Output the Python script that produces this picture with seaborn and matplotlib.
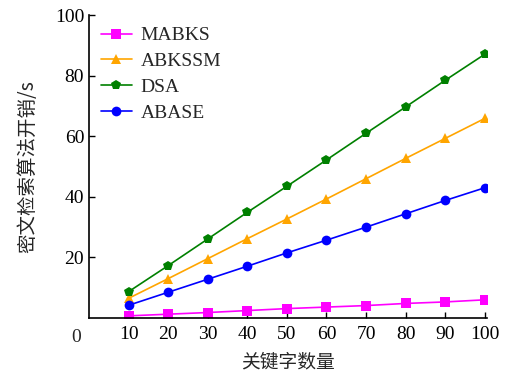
import pandas as pd
import matplotlib
matplotlib.use('Agg')
import matplotlib.pyplot as plt
import seaborn as sns

# keyword counts on the x axis
keywords = [10, 20, 30, 40, 50, 60, 70, 80, 90, 100]

# search cost per scheme (s)
mabks = [0.7, 1.25, 1.8, 2.45, 3.1, 3.6, 4.1, 4.8, 5.3, 6.0]
abkssm = [6.5, 13.0, 19.6, 26.2, 32.7, 39.3, 46.0, 52.7, 59.3, 65.9]
dsa = [8.7, 17.3, 26.1, 34.9, 43.5, 52.2, 61.0, 69.7, 78.5, 87.1]
abase = [4.2, 8.5, 12.8, 17.1, 21.5, 25.7, 30.0, 34.4, 38.8, 43.0]

schemes = ['MABKS', 'ABKSSM', 'DSA', 'ABASE']
series = [mabks, abkssm, dsa, abase]

rows = []
for name, vals in zip(schemes, series):
    for k, v in zip(keywords, vals):
        rows.append({'Scheme': name, 'Keywords': k, 'Cost': v})
df = pd.DataFrame(rows)

sns.set_style('ticks')
plt.rcParams['font.family'] = ['Liberation Serif', 'Noto Sans CJK SC']
plt.rcParams['xtick.direction'] = 'in'
plt.rcParams['ytick.direction'] = 'in'

fig = plt.figure(figsize=(5.06, 3.79), dpi=100)
ax = fig.add_axes([0.176, 0.161, 0.786, 0.799])

palette = {'MABKS': '#FF00FF', 'ABKSSM': '#FFA500', 'DSA': '#008000', 'ABASE': '#0000FF'}
markers = {'MABKS': 's', 'ABKSSM': '^', 'DSA': 'p', 'ABASE': 'o'}
sns.lineplot(data=df, x='Keywords', y='Cost', hue='Scheme', style='Scheme',
             palette=palette, markers=markers, dashes=False, markersize=7,
             markeredgewidth=0, linewidth=1.2, ax=ax)

ax.set_xlim(0, 100.5)
ax.set_ylim(0, 100)
ax.set_xticks(keywords)
ax.set_yticks([20, 40, 60, 80, 100])
ax.tick_params(labelsize=14, length=4, width=1, colors='black')
ax.tick_params(axis='x', pad=6)
ax.text(-3.2, -3.8, '0', fontsize=14, ha='center', va='top')
for s in ['left', 'bottom']:
    ax.spines[s].set_linewidth(1.2)
    ax.spines[s].set_color('black')
sns.despine(ax=ax)

ax.set_xlabel('关键字数量', fontsize=13.5, labelpad=6,
              family=['Noto Sans CJK SC', 'Liberation Serif'])
ax.set_ylabel('密文检索算法开销/s', fontsize=14, labelpad=12,
              family=['Noto Sans CJK SC', 'Liberation Serif'])

leg = ax.legend(loc='upper left', frameon=False, fontsize=14, handlelength=1.6,
                handletextpad=0.45, borderaxespad=0.2, labelspacing=0.42,
                bbox_to_anchor=(0.0, 1.0))

fig.savefig('out.png', dpi=100)
